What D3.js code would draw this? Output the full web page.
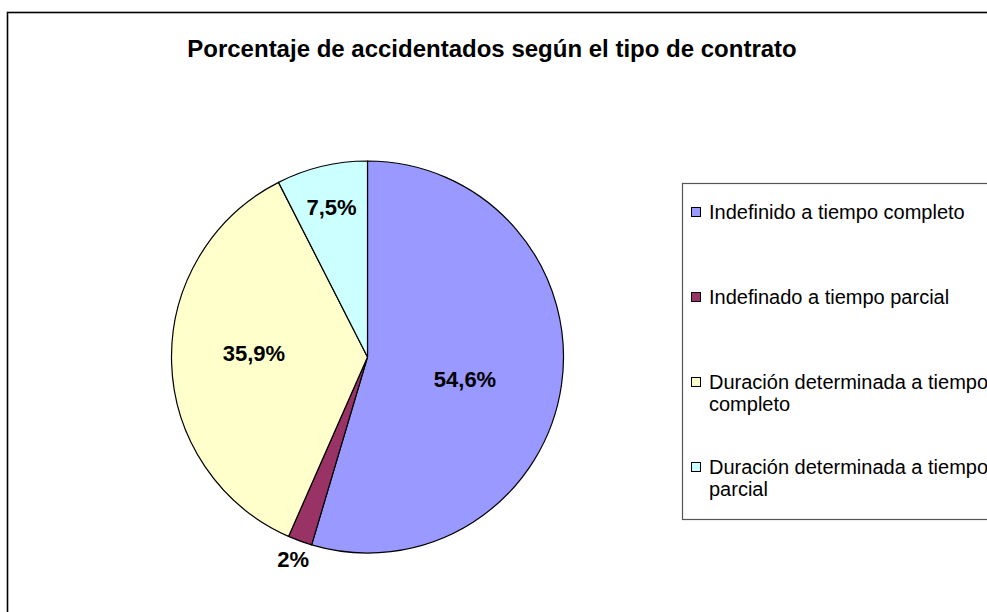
<!DOCTYPE html>
<html>
<head>
<meta charset="utf-8">
<script src="https://cdn.jsdelivr.net/npm/d3@7"></script>
<style>
  html, body { margin: 0; padding: 0; background: #fff; }
  svg { display: block; font-family: "Liberation Sans", Arial, sans-serif; }
</style>
</head>
<body>
<svg id="chart" width="987" height="612"></svg>
<script>
// Contract types and their share of accident victims (%)
const categories = [
  "Indefinido a tiempo completo",
  "Indefinado a tiempo parcial",
  "Duración determinada a tiempo completo",
  "Duración determinada a tiempo parcial"
];
const values = [54.6, 2, 35.9, 7.5];
const valueLabels = ["54,6%", "2%", "35,9%", "7,5%"];
const legendLines = [
  ["Indefinido a tiempo completo"],
  ["Indefinado a tiempo parcial"],
  ["Duración determinada a tiempo", "completo"],
  ["Duración determinada a tiempo", "parcial"]
];
const title = "Porcentaje de accidentados según el tipo de contrato";

const colors = ["#9999FF", "#993366", "#FFFFCC", "#CCFFFF"];
// value label placement: fraction of the radius and angular nudge (degrees)
const labelRadius = [0.51, 1.1, 0.58, 0.785];
const labelNudge = [4.5, 0, 3.6, 0];

const svg = d3.select("#chart");

// outer chart frame
svg.append("rect")
  .attr("x", 7.5).attr("y", 12.5)
  .attr("width", 1000).attr("height", 700)
  .attr("fill", "#fff").attr("stroke", "#000").attr("stroke-width", 1.6);

// title
svg.append("text")
  .attr("x", 492).attr("y", 57)
  .attr("text-anchor", "middle")
  .attr("font-size", 24).attr("font-weight", "bold")
  .text(title);

// pie
const cx = 367.5, cy = 357, r = 196;
const color = d3.scaleOrdinal().domain(categories).range(colors);
const pie = d3.pie().sort(null).value(d => d.value);
const arcs = pie(categories.map((c, i) => ({ name: c, value: values[i], label: valueLabels[i], idx: i })));
const arc = d3.arc().innerRadius(0).outerRadius(r);

const g = svg.append("g").attr("transform", `translate(${cx},${cy})`);
g.selectAll("path.slice")
  .data(arcs)
  .join("path")
  .attr("class", "slice")
  .attr("d", arc)
  .attr("fill", d => color(d.data.name))
  .attr("stroke", "#000")
  .attr("stroke-width", 1.2)
  .attr("stroke-linejoin", "round");

g.selectAll("text.val")
  .data(arcs)
  .join("text")
  .attr("class", "val")
  .attr("transform", d => {
    const a = (d.startAngle + d.endAngle) / 2 + labelNudge[d.data.idx] * Math.PI / 180;
    const rr = r * labelRadius[d.data.idx];
    return `translate(${rr * Math.sin(a)},${-rr * Math.cos(a)})`;
  })
  .attr("text-anchor", "middle")
  .attr("dy", "0.36em")
  .attr("font-size", 22)
  .attr("font-weight", "bold")
  .attr("fill", "#000")
  .text(d => d.data.label);

// legend
const lx = 682.5, ly = 183.5;
svg.append("rect")
  .attr("x", lx).attr("y", ly)
  .attr("width", 400).attr("height", 336)
  .attr("fill", "#fff").attr("stroke", "#555").attr("stroke-width", 1.2);

const rowY = d3.scalePoint().domain(categories).range([212, 467]);
const lg = svg.append("g");
categories.forEach((c, i) => {
  const y = rowY(c);
  lg.append("rect")
    .attr("x", 691.5).attr("y", y - 4.5)
    .attr("width", 9).attr("height", 9)
    .attr("fill", color(c)).attr("stroke", "#000").attr("stroke-width", 1);
  const t = lg.append("text")
    .attr("x", 709).attr("y", y)
    .attr("font-size", 20);
  legendLines[i].forEach((line, j) => {
    t.append("tspan").attr("x", 709).attr("dy", j === 0 ? "0.36em" : "1.1em").text(line);
  });
});
</script>
</body>
</html>
